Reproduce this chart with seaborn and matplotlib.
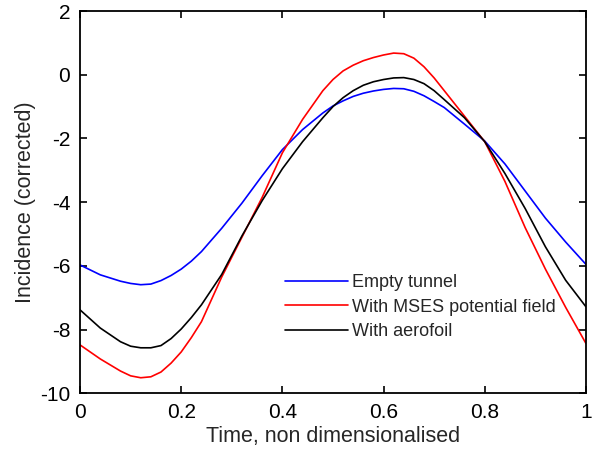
import numpy as np
import pandas as pd
import matplotlib
matplotlib.use("Agg")
import matplotlib.pyplot as plt
import seaborn as sns

# datos
time = [0.00, 0.04, 0.08, 0.10, 0.12, 0.14, 0.16, 0.18, 0.20, 0.22, 0.24, 0.28, 0.32, 0.36,
        0.40, 0.44, 0.48, 0.50, 0.52, 0.54, 0.56, 0.58, 0.60, 0.62, 0.64, 0.66, 0.68, 0.70,
        0.72, 0.76, 0.80, 0.84, 0.88, 0.92, 0.96, 1.00]
empty_tunnel = [-5.97, -6.28, -6.48, -6.55, -6.59, -6.57, -6.46, -6.30, -6.10, -5.85, -5.55, -4.82, -4.03, -3.17,
                -2.35, -1.72, -1.20, -0.98, -0.82, -0.68, -0.58, -0.51, -0.46, -0.43, -0.44, -0.52, -0.66, -0.84,
                -1.03, -1.55, -2.08, -2.80, -3.65, -4.50, -5.25, -5.95]
mses_field = [-8.48, -8.92, -9.30, -9.45, -9.51, -9.48, -9.33, -9.05, -8.70, -8.25, -7.75, -6.35, -5.10, -3.85,
              -2.45, -1.40, -0.50, -0.15, 0.12, 0.30, 0.44, 0.54, 0.62, 0.68, 0.66, 0.52, 0.25, -0.10,
              -0.50, -1.30, -2.10, -3.35, -4.80, -6.10, -7.30, -8.43]
aerofoil = [-7.38, -7.95, -8.38, -8.52, -8.57, -8.57, -8.50, -8.28, -7.98, -7.62, -7.22, -6.27, -5.06, -3.95,
            -2.95, -2.10, -1.35, -1.00, -0.72, -0.50, -0.33, -0.22, -0.15, -0.10, -0.09, -0.15, -0.28, -0.50,
            -0.78, -1.35, -2.10, -3.10, -4.20, -5.40, -6.45, -7.28]
series_names = ["Empty tunnel", "With MSES potential field", "With aerofoil"]
colors = ["#0000FF", "#FF0000", "#000000"]
xticks = [0, 0.2, 0.4, 0.6, 0.8, 1]
xtick_labels = ["0", "0.2", "0.4", "0.6", "0.8", "1"]
yticks = [-10, -8, -6, -4, -2, 0, 2]

df = pd.DataFrame({
    "t": time * 3,
    "inc": empty_tunnel + mses_field + aerofoil,
    "case": [series_names[0]] * len(time) + [series_names[1]] * len(time) + [series_names[2]] * len(time),
})

sns.set_style("ticks")
plt.rcParams["font.family"] = ["Liberation Sans", "DejaVu Sans"]
plt.rcParams["axes.unicode_minus"] = False

fig = plt.figure(figsize=(5.93, 4.59), dpi=100)
ax = fig.add_axes([0.135, 0.143, 0.853, 0.833])

sns.lineplot(data=df, x="t", y="inc", hue="case", hue_order=series_names,
             palette=colors, linewidth=1.2, ax=ax, sort=False)

ax.set_xlim(0, 1)
ax.set_ylim(-10, 2)
ax.set_xticks(xticks)
ax.set_xticklabels(xtick_labels)
ax.set_yticks(yticks)
ax.set_xlabel("Time, non dimensionalised", fontsize=15.5, labelpad=3)
ax.set_ylabel("Incidence (corrected)", fontsize=15.5, labelpad=3)
ax.tick_params(direction="in", length=5, width=1.2, top=True, right=True,
               labelsize=15, colors="black", pad=7)
for s in ax.spines.values():
    s.set_visible(True)
    s.set_linewidth(1.3)
    s.set_color("black")

leg = ax.legend(loc="upper left", bbox_to_anchor=(0.405, 0.312), frameon=False,
                fontsize=13, handlelength=3.5, handletextpad=0.2, labelspacing=0.42,
                borderpad=0, borderaxespad=0)
for h in leg.get_lines():
    h.set_linewidth(1.2)

fig.savefig("out.png", dpi=100)
